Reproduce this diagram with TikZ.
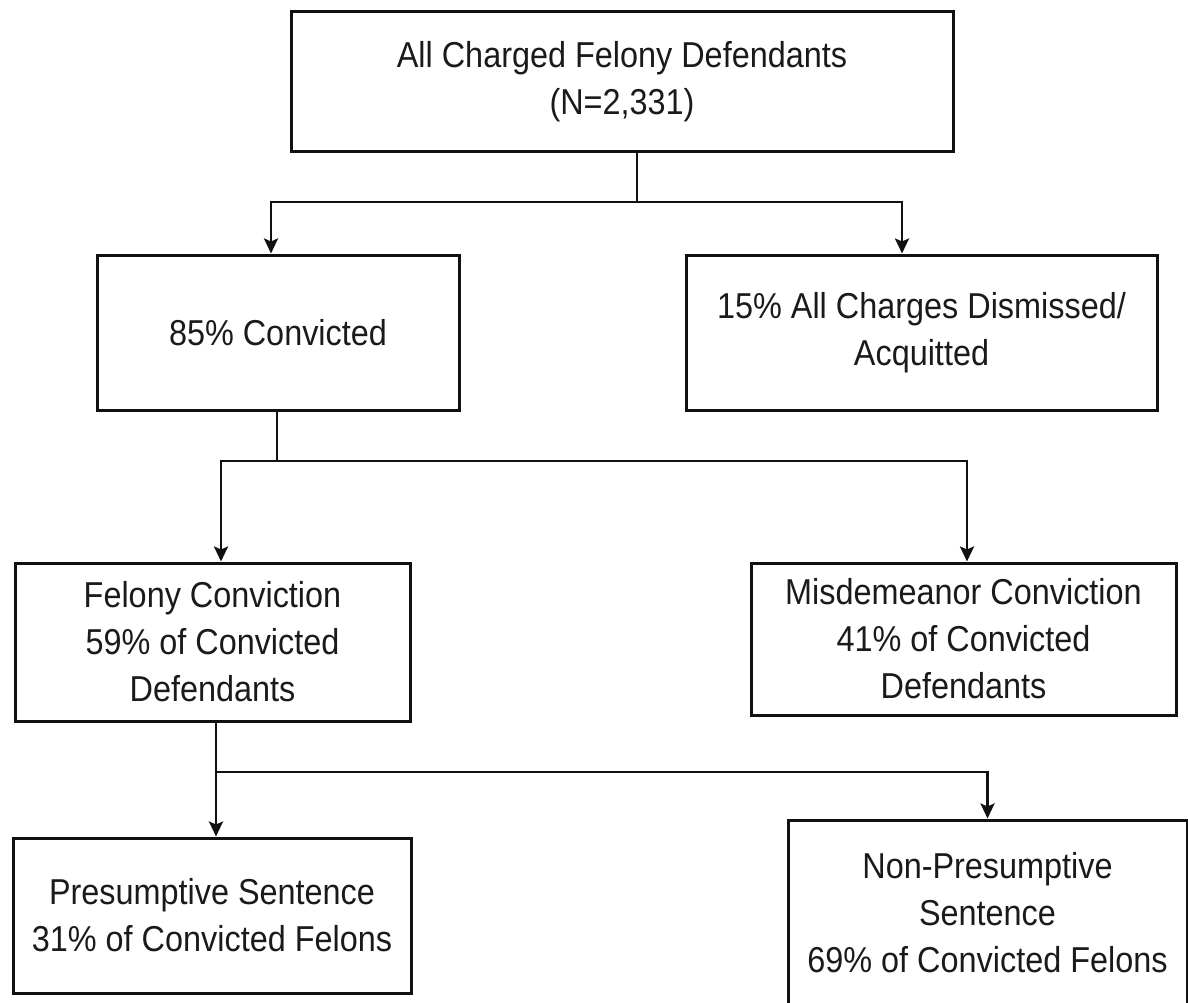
\documentclass[tikz,border=0pt]{standalone}
\usepackage{fontspec}
\setmainfont{Liberation Sans}[FakeStretch=0.9]
\usepackage{tikz}
\usetikzlibrary{positioning,arrows.meta}
\definecolor{LineBlack}{HTML}{111111}
\definecolor{TextGray}{HTML}{1A1A1A}

\tikzset{
  stagebox/.style={draw=LineBlack, line width=3pt, align=center,
    text=TextGray, inner sep=0pt, font=\fontsize{36}{47}\selectfont},
  link/.style={draw=LineBlack, line width=2.6pt},
  flow/.style={link, -{Stealth[length=15pt, width=14pt, inset=3pt]}}
}

\begin{document}
\begin{tikzpicture}[x=1pt, y=-1pt]
      \useasboundingbox (0,0) rectangle (1188,1003);
      \clip (0,0) rectangle (1188,1003);

      % boxes
      \node[stagebox, minimum width=662pt, minimum height=140pt] (all) at (622,82)
        {All Charged Felony Defendants\\(N=2,331)};
      \node[stagebox, minimum width=362pt, minimum height=155pt] (conv) at (278,332.5)
        {85\% Convicted};
      \node[stagebox, minimum width=471pt, minimum height=155pt] (dism) at (921.5,332.5)
        {15\% All Charges Dismissed/\\Acquitted};
      \node[stagebox, minimum width=395pt, minimum height=158pt] (fel) at (212.5,642)
        {Felony Conviction\\59\% of Convicted\\Defendants};
      \node[stagebox, minimum width=425pt, minimum height=152pt] (misd) at (963.5,639)
        {Misdemeanor Conviction\\41\% of Convicted\\Defendants};
      \node[stagebox, minimum width=398pt, minimum height=155pt] (pres) at (212,915.5)
        {Presumptive Sentence\\31\% of Convicted Felons};
      \node[stagebox, minimum width=399pt, minimum height=186pt] (nonp) at (987.5,913)
        {Non-Presumptive\\Sentence\\69\% of Convicted Felons};

      % branch points
      \coordinate (j1) at (637,202);
      \coordinate (j2) at (277,461);
      \coordinate (j3) at (216,772);

      \draw[link] (all.south -| j1) -- (j1);
      \draw[flow] (j1) -| ([xshift=-7pt]conv.north);
      \draw[flow] (j1) -| ([xshift=-19.5pt]dism.north);

      \draw[link] (conv.south -| j2) -- (j2);
      \draw[flow] (j2) -| ([xshift=8.5pt]fel.north);
      \draw[flow] (j2) -| ([xshift=3.5pt]misd.north);

      \draw[link] (fel.south -| j3) -- (j3);
      \draw[flow] (j3) -- (pres.north -| j3);
      \draw[flow] (j3) -| (nonp.north);
\end{tikzpicture}
\end{document}
